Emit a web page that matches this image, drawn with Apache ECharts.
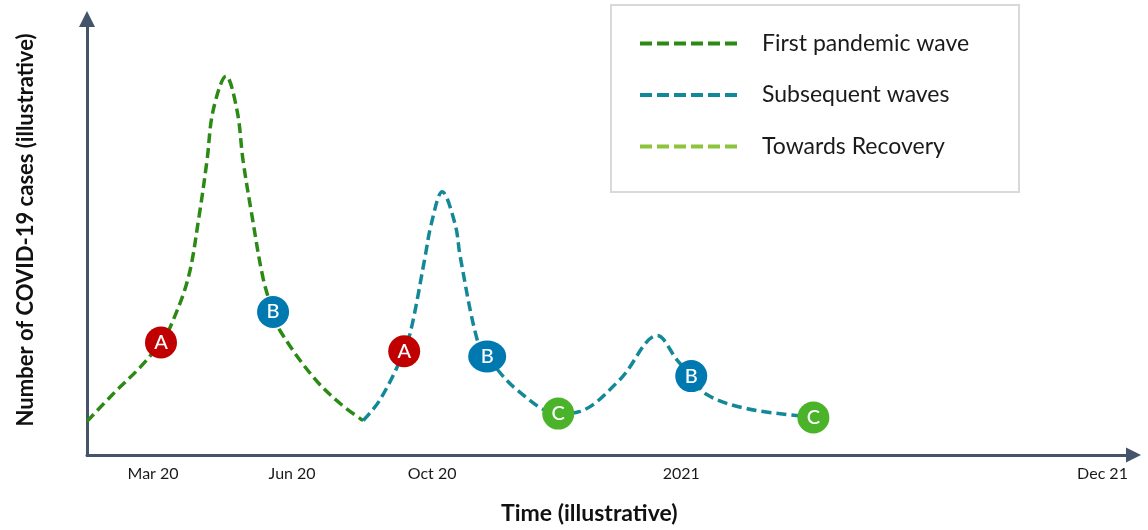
<!DOCTYPE html>
<html>
<head>
<meta charset="utf-8">
<script src="https://cdn.jsdelivr.net/npm/echarts@6/dist/echarts.min.js"></script>
<style>
  html, body { margin: 0; padding: 0; background: #ffffff; }
  #chart { width: 1148px; height: 530px; }
</style>
</head>
<body>
<div id="chart"></div>
<script>
// Illustrative timeline: x in abstract time units (0-100), y in abstract case units (0-100)
const firstWave = [
  [0, 7.7], [2.49, 14.0], [5.07, 20.1], [7.07, 25.8], [7.93, 29.2], [9.66, 40.5],
  [10.71, 54.8], [11.47, 67.6], [12.05, 79.0], [13.29, 86.9], [14.34, 79.0],
  [14.91, 67.6], [15.77, 54.8], [16.83, 40.5], [17.78, 32.8], [18.45, 28.5],
  [21.61, 17.9], [24.19, 11.8], [26.39, 7.9]
];
const laterWaves = [
  [26.39, 7.9], [28.01, 12.7], [30.31, 23.8], [31.07, 29.9], [32.31, 45.5],
  [32.89, 52.9], [33.94, 60.4], [35.18, 52.9], [35.66, 45.5], [37.28, 26.5],
  [38.24, 22.6], [41.11, 14.9], [45.03, 9.5], [47.13, 10.0], [50.96, 17.4],
  [54.49, 27.4], [56.41, 21.7], [57.74, 18.1], [59.27, 13.8], [63.10, 10.6],
  [68.16, 9.0]
];
const recovery = [];

// Phase markers along the curve
const markerLetters = ['A', 'B', 'A', 'B', 'C', 'B', 'C'];
const markerX = [7.07, 17.78, 30.31, 38.24, 45.03, 57.74, 69.41];
const markerY = [25.8, 32.8, 23.8, 22.6, 9.5, 18.1, 8.6];

// Time tick labels
const tickValues = [6.31, 19.6, 32.98, 56.79, 97.04];
const tickLabels = ['Mar 20', 'Jun 20', 'Oct 20', '2021', 'Dec 21'];

const seriesNames = ['First pandemic wave', 'Subsequent waves', 'Towards Recovery'];
const seriesColors = ['#2b8a14', '#138896', '#8cc43c'];
const markerColors = { A: '#c00000', B: '#0079b1', C: '#4bb32a' };

const axisColor = '#44546a';
const font = 'Lato, "Open Sans", sans-serif';

const labelMap = {};
tickValues.forEach((v, i) => { labelMap[v] = tickLabels[i]; });

const markerData = markerLetters.map((l, i) => ({
  value: [markerX[i], markerY[i]],
  name: l,
  symbolSize: i === 3 ? [38, 32] : 32,
  itemStyle: { color: markerColors[l], opacity: 1 }
}));

const curveStyle = color => ({ color, width: 3.5, type: [10, 5] });

const chart = echarts.init(document.getElementById('chart'), null, { renderer: 'canvas' });

chart.setOption({
  animation: false,
  backgroundColor: '#ffffff',
  grid: { left: 87, right: 14.5, top: 19, bottom: 68, containLabel: false },
  xAxis: {
    type: 'value', min: 0, max: 100,
    splitLine: { show: false },
    axisTick: { show: false },
    axisLine: { lineStyle: { color: axisColor, width: 3 }, symbol: ['none', 'triangle'], symbolSize: [15, 15] },
    axisLabel: {
      customValues: tickValues,
      formatter: v => labelMap[v] || '',
      color: '#1a1a1a', fontFamily: font, fontSize: 16, margin: 11,
      showMinLabel: true, showMaxLabel: true
    },
    name: 'Time (illustrative)',
    nameLocation: 'middle', nameGap: 47,
    nameTextStyle: { fontFamily: font, fontSize: 23, fontWeight: 'bold', color: '#111', padding: [0, 42, 0, 0] }
  },
  yAxis: {
    type: 'value', min: 0, max: 100,
    splitLine: { show: false },
    axisTick: { show: false },
    axisLabel: { show: false },
    axisLine: { lineStyle: { color: axisColor, width: 3 }, symbol: ['none', 'triangle'], symbolSize: [16, 16] },
    name: 'Number of COVID-19 cases (illustrative)',
    nameLocation: 'middle', nameGap: 50,
    nameTextStyle: { fontFamily: font, fontSize: 22, fontWeight: 'bold', color: '#111', padding: [0, 0, 0, 14] }
  },
  legend: {
    orient: 'vertical', left: 633, top: 26,
    data: seriesNames,
    itemWidth: 102, itemHeight: 14, itemGap: 26.5,
    itemStyle: { opacity: 0, borderWidth: 0 },
    lineStyle: { width: 4, type: [12, 5] },
    textStyle: { fontFamily: font, fontSize: 23, color: '#1a1a1a', lineHeight: 25, padding: [0, 0, 0, 15] }
  },
  graphic: [{
    type: 'rect', left: 610, top: 4, z: -1,
    shape: { width: 408, height: 187 },
    style: { fill: '#ffffff', stroke: '#d9d9d9', lineWidth: 2 }
  }],
  series: [
    {
      name: seriesNames[0], type: 'line', data: firstWave, smooth: 0.35,
      symbol: 'none', color: seriesColors[0],
      lineStyle: curveStyle(seriesColors[0]), z: 2
    },
    {
      name: seriesNames[1], type: 'line', data: laterWaves, smooth: 0.35,
      symbol: 'none', color: seriesColors[1],
      lineStyle: curveStyle(seriesColors[1]), z: 2
    },
    {
      name: seriesNames[2], type: 'line', data: recovery,
      symbol: 'none', color: seriesColors[2],
      lineStyle: curveStyle(seriesColors[2])
    },
    {
      type: 'scatter', data: markerData, symbol: 'circle', z: 5,
      label: {
        show: true, position: 'inside', formatter: p => p.name,
        color: '#ffffff', fontFamily: font, fontSize: 20, fontWeight: 500
      }
    }
  ]
});
</script>
</body>
</html>
